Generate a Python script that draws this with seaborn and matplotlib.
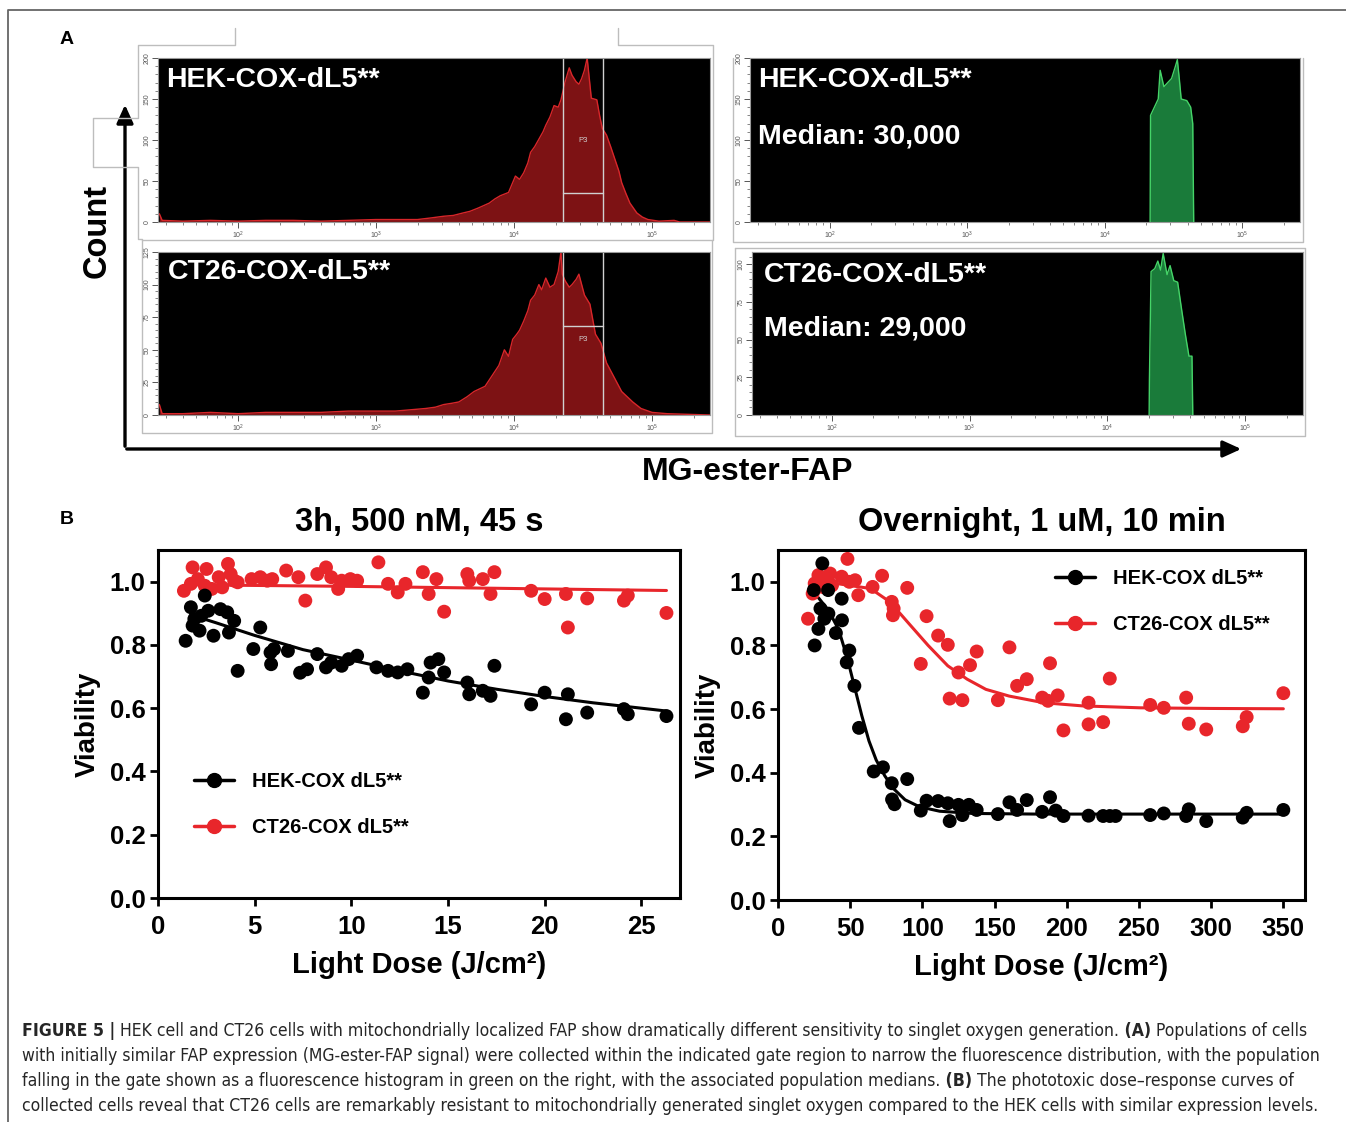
import numpy as np
import pandas as pd
import matplotlib
matplotlib.use("Agg")
import matplotlib.pyplot as plt
import seaborn as sns
from matplotlib import ticker, font_manager
from matplotlib.lines import Line2D
from matplotlib.patches import FancyArrowPatch

# ---------------- data ----------------
# panel A: flow histograms, x = log10(MG-ester-FAP), y = count
HEK_LOG = [1.43, 1.45, 1.60, 1.80, 2.00, 2.20, 2.40, 2.60, 2.80, 3.00,
           3.15, 3.30, 3.40, 3.49, 3.56, 3.63, 3.68, 3.74, 3.78, 3.82,
           3.86, 3.90, 3.96, 4.01, 4.04, 4.07, 4.10, 4.12, 4.15, 4.18,
           4.21, 4.23, 4.26, 4.29, 4.32, 4.34, 4.37, 4.40, 4.42, 4.45,
           4.47, 4.49, 4.51, 4.53, 4.56, 4.58, 4.60, 4.62, 4.64, 4.67,
           4.70, 4.73, 4.76, 4.78, 4.81, 4.84, 4.89, 4.93, 4.97, 5.05,
           5.16, 5.20, 5.42]
HEK_CNT = [10, 2, 1, 2, 1, 2, 2, 1, 2, 3,
           3, 3, 5, 7, 8, 11, 13, 17, 20, 23,
           28, 32, 36, 56, 52, 60, 72, 85, 92, 101,
           110, 118, 128, 142, 140, 149, 171, 188, 179, 171,
           168, 175, 185, 200, 151, 150, 149, 130, 114, 106,
           92, 77, 62, 48, 35, 23, 11, 6, 3, 1,
           2, 0, 0]

CT_LOG = [1.43, 1.45, 1.60, 1.80, 2.00, 2.20, 2.40, 2.60, 2.80, 3.00,
          3.14, 3.25, 3.36, 3.43, 3.49, 3.55, 3.60, 3.66, 3.71, 3.75,
          3.79, 3.84, 3.89, 3.93, 3.96, 3.99, 4.02, 4.04, 4.07, 4.10,
          4.12, 4.15, 4.18, 4.20, 4.23, 4.26, 4.29, 4.32, 4.34, 4.35,
          4.37, 4.40, 4.42, 4.45, 4.47, 4.49, 4.51, 4.55, 4.59, 4.63,
          4.67, 4.70, 4.73, 4.78, 4.82, 4.86, 4.92, 5.00, 5.11, 5.42]
CT_CNT = [8, 1, 1, 2, 1, 2, 2, 2, 3, 3,
          3, 4, 5, 6, 8, 9, 10, 14, 18, 20,
          22, 30, 38, 50, 45, 58, 62, 65, 72, 80,
          88, 92, 100, 96, 105, 98, 100, 110, 125, 108,
          103, 98, 100, 104, 108, 100, 92, 85, 62, 55,
          40, 34, 28, 18, 14, 10, 5, 2, 1, 0]

HEK_GATED_LOG = [4.330, 4.333, 4.347, 4.389, 4.403, 4.430, 4.458, 4.486,
                 4.514, 4.528, 4.542, 4.556, 4.597, 4.625, 4.640, 4.647]
HEK_GATED_CNT = [0, 130, 135, 150, 185, 165, 170, 175,
                 190, 198, 175, 150, 148, 140, 120, 0]
CT_GATED_LOG = [4.303, 4.305, 4.317, 4.344, 4.366, 4.386, 4.405, 4.433,
                4.455, 4.482, 4.510, 4.537, 4.565, 4.592, 4.614, 4.620]
CT_GATED_CNT = [0, 23, 95, 97, 102, 96, 107, 93,
                99, 89, 88, 71, 54, 39, 39, 0]

GATE = (4.356, 4.644)

# panel B left: 3h, 500 nM, 45 s
L_RED_X = [1.34, 1.79, 1.70, 2.06, 2.51, 2.42, 2.78, 3.14, 3.32, 3.62,
           3.76, 3.94, 4.12, 4.84, 5.29, 5.65, 5.91, 6.63, 7.26, 7.62,
           8.24, 8.69, 8.96, 9.32, 9.50, 9.95, 10.3, 11.4, 11.9, 12.4,
           12.8, 13.7, 14.0, 14.4, 14.8, 16.0, 16.1, 16.8, 17.2, 17.4,
           19.3, 20.0, 21.1, 21.2, 22.2, 24.1, 24.3, 26.3]
L_RED_Y = [0.971, 1.045, 0.993, 1.008, 1.040, 0.987, 0.977, 1.014, 0.982, 1.056,
           1.024, 1.003, 0.998, 1.008, 1.014, 1.003, 1.008, 1.035, 1.014, 0.940,
           1.024, 1.045, 1.014, 0.977, 1.003, 1.008, 1.003, 1.061, 0.993, 0.966,
           0.993, 1.030, 0.961, 1.008, 0.905, 1.024, 1.003, 1.008, 0.961, 1.030,
           0.971, 0.945, 0.961, 0.855, 0.947, 0.940, 0.956, 0.901]
L_BLK_X = [1.43, 1.70, 1.79, 1.88, 2.15, 2.24, 2.42, 2.60, 2.87, 3.23,
           3.58, 3.67, 3.94, 4.12, 4.93, 5.29, 5.82, 5.85, 6.00, 6.72,
           7.35, 7.71, 8.24, 8.69, 8.96, 9.50, 9.86, 10.3, 11.3, 11.9,
           12.4, 12.9, 13.7, 14.0, 14.1, 14.5, 14.8, 16.0, 16.1, 16.8,
           17.2, 17.4, 19.3, 20.0, 21.1, 21.2, 22.2, 24.1, 24.3, 26.3]
L_BLK_Y = [0.813, 0.919, 0.861, 0.882, 0.845, 0.892, 0.956, 0.908, 0.829, 0.913,
           0.903, 0.839, 0.876, 0.718, 0.787, 0.855, 0.776, 0.739, 0.787, 0.781,
           0.712, 0.723, 0.771, 0.729, 0.744, 0.734, 0.755, 0.766, 0.729, 0.718,
           0.713, 0.723, 0.649, 0.697, 0.744, 0.755, 0.713, 0.681, 0.644, 0.655,
           0.639, 0.734, 0.612, 0.649, 0.565, 0.644, 0.586, 0.597, 0.581, 0.575]
L_RED_FIT_X = [1.5, 5.0, 10.0, 15.0, 20.0, 26.3]
L_RED_FIT_Y = [0.990, 0.988, 0.985, 0.981, 0.977, 0.972]
L_BLK_FIT_X = [1.7, 3.0, 5.0, 7.5, 10.0, 12.5, 15.0, 17.5, 20.0, 22.5, 25.0, 26.3]
L_BLK_FIT_Y = [0.895, 0.870, 0.830, 0.785, 0.752, 0.718, 0.686, 0.660, 0.637, 0.617, 0.600, 0.591]

# panel B right: overnight, 1 uM, 10 min
R_RED_X = [20.8, 24.0, 25.4, 28.0, 30.7, 33.4, 36.1, 37.4, 44.1, 48.1,
           49.4, 53.4, 55.6, 65.5, 72.1, 78.8, 79.6, 80.1, 89.5, 98.9,
           102.9, 110.9, 117.6, 118.9, 125.0, 127.7, 133.0, 137.6, 152.3, 160.3,
           165.6, 172.3, 183.0, 187.0, 188.4, 193.7, 197.7, 215.1, 215.1, 225.2,
           229.8, 257.8, 267.2, 282.7, 284.5, 296.6, 321.9, 324.6, 350.0]
R_RED_Y = [0.884, 0.963, 0.995, 1.021, 0.984, 1.011, 1.026, 0.989, 1.016, 1.072,
           1.000, 1.005, 0.958, 0.984, 1.019, 0.937, 0.895, 0.916, 0.981, 0.742,
           0.892, 0.831, 0.802, 0.633, 0.715, 0.628, 0.738, 0.781, 0.628, 0.794,
           0.673, 0.694, 0.636, 0.626, 0.744, 0.643, 0.533, 0.620, 0.552, 0.559,
           0.696, 0.613, 0.604, 0.636, 0.554, 0.536, 0.546, 0.575, 0.650]
R_BLK_X = [25.4, 24.8, 28.0, 29.4, 30.7, 32.1, 34.7, 34.9, 40.1, 44.1,
           44.3, 49.4, 47.6, 52.9, 56.1, 66.3, 72.7, 78.8, 79.0, 80.7,
           89.5, 98.9, 102.9, 110.9, 117.6, 118.9, 125.0, 127.7, 132.2, 137.6,
           152.3, 160.3, 165.6, 172.3, 183.0, 188.4, 192.4, 197.7, 215.1, 225.2,
           229.8, 233.8, 257.8, 267.2, 282.7, 284.5, 296.6, 321.9, 324.6, 350.0]
R_BLK_Y = [0.800, 0.974, 0.852, 0.916, 1.058, 0.884, 0.974, 0.900, 0.839, 0.947,
           0.879, 0.784, 0.747, 0.673, 0.541, 0.404, 0.417, 0.367, 0.316, 0.301,
           0.380, 0.281, 0.312, 0.311, 0.304, 0.248, 0.299, 0.267, 0.299, 0.283,
           0.270, 0.307, 0.283, 0.314, 0.277, 0.323, 0.281, 0.264, 0.265, 0.264,
           0.264, 0.264, 0.267, 0.272, 0.264, 0.285, 0.248, 0.259, 0.274, 0.283]
R_RED_FIT_X = [24, 40, 64, 77.5, 90.8, 104, 117.6, 131, 144, 160, 184, 211, 251, 300, 350]
R_RED_FIT_Y = [1.000, 0.995, 0.979, 0.937, 0.868, 0.800, 0.736, 0.694, 0.662, 0.641,
               0.620, 0.610, 0.604, 0.602, 0.601]
R_BLK_FIT_X = [28, 35, 42, 48, 53, 58, 63, 68, 74, 80, 88, 98, 112, 135, 180, 250, 350]
R_BLK_FIT_Y = [0.950, 0.910, 0.850, 0.760, 0.670, 0.580, 0.500, 0.440, 0.390, 0.350,
               0.315, 0.293, 0.279, 0.272, 0.270, 0.270, 0.270]

LINES = ["HEK-COX dL5**", "CT26-COX dL5**"]
COLORS = {"HEK-COX dL5**": "black", "CT26-COX dL5**": "#e8262b"}

CAPTION = [
    [("FIGURE 5 |", True),
     (" HEK cell and CT26 cells with mitochondrially localized FAP show dramatically different sensitivity to singlet oxygen generation.", False),
     (" (A)", True), (" Populations of cells", False)],
    [("with initially similar FAP expression (MG-ester-FAP signal) were collected within the indicated gate region to narrow the fluorescence distribution, with the population", False)],
    [("falling in the gate shown as a fluorescence histogram in green on the right, with the associated population medians.", False),
     (" (B)", True), (" The phototoxic dose\u2013response curves of", False)],
    [("collected cells reveal that CT26 cells are remarkably resistant to mitochondrially generated singlet oxygen compared to the HEK cells with similar expression levels.", False)],
]

# ---------------- figure ----------------
W, H = 1346, 1122
sns.set_theme(style="ticks")
plt.rcParams["font.family"] = ["Liberation Sans", "DejaVu Sans"]
plt.rcParams["text.color"] = "black"
plt.rcParams["axes.labelcolor"] = "black"
plt.rcParams["xtick.color"] = "black"
plt.rcParams["ytick.color"] = "black"

fig = plt.figure(figsize=(W / 100, H / 100), dpi=100)
fig.patch.set_facecolor("white")


def rect(x0, y0, x1, y1):
    return [x0 / W, 1 - y1 / H, (x1 - x0) / W, (y1 - y0) / H]


def fp(x, y):
    return (x / W, 1 - y / H)


def fig_line(pts, color="#bdbdbd", lw=1.0):
    xs = [p[0] / W for p in pts]
    ys = [1 - p[1] / H for p in pts]
    fig.add_artist(Line2D(xs, ys, color=color, lw=lw, transform=fig.transFigure))


# outer border (top + left)
fig_line([(1346, 10), (8, 10), (8, 1122)], color="#666666", lw=1.3)

# frames of the pasted cytometer exports
fig_line([(235, 28), (235, 45), (138, 45), (138, 118), (93, 118), (93, 167),
          (138, 167), (138, 239), (142, 239), (142, 433), (712, 433), (712, 240)])
fig_line([(618, 28), (618, 45), (713, 45), (713, 240), (142, 240)])
fig_line([(733, 58), (733, 242), (1303, 242), (1303, 58)])
fig_line([(735, 248), (735, 436), (1305, 436), (1305, 248), (735, 248)])


def flow_panel(box, logs, counts, ymax, ymajor, yminor, face, edge, labels, gate=None):
    ax = fig.add_axes(rect(*box))
    ax.set_facecolor("black")
    x = 10 ** np.array(logs)
    ax.fill_between(x, counts, color=face, lw=0)
    ax.plot(x, counts, color=edge, lw=1.0)
    ax.set_xscale("log")
    ax.set_xlim(10 ** 1.42, 10 ** 5.42)
    ax.set_ylim(0, ymax)
    ax.xaxis.set_major_locator(ticker.LogLocator(base=10, numticks=10))
    ax.xaxis.set_minor_locator(ticker.LogLocator(base=10, subs=np.arange(2, 10), numticks=40))
    ax.xaxis.set_minor_formatter(ticker.NullFormatter())
    ax.yaxis.set_major_locator(ticker.MultipleLocator(ymajor))
    ax.yaxis.set_minor_locator(ticker.MultipleLocator(yminor))
    ax.tick_params(which="major", labelsize=5, colors="#555555", length=4, width=0.7,
                   direction="out", pad=1.5)
    ax.tick_params(which="minor", colors="#555555", length=2, width=0.5, direction="out")
    for lab in ax.get_yticklabels():
        lab.set_rotation(90)
        lab.set_va("center")
    for sp in ax.spines.values():
        sp.set_color("#9a9a9a")
        sp.set_linewidth(0.8)
    for txt, xa, ya in labels:
        ax.text(xa, ya, txt, transform=ax.transAxes, color="white", fontsize=20.5,
                fontweight="bold", ha="left", va="center")
    if gate is not None:
        lo, hi = GATE
        bar, plab = gate
        ax.axvline(10 ** lo, color="#d0d0d0", lw=1.0)
        ax.axvline(10 ** hi, color="#d0d0d0", lw=1.0)
        ax.plot([10 ** lo, 10 ** hi], [bar, bar], color="#d0d0d0", lw=1.0)
        ax.text(10 ** ((lo + hi) / 2), plab, "P3", color="#d0d0d0", fontsize=5.5,
                ha="center", va="center")
    return ax


RED_FACE, RED_EDGE = "#7d1214", "#d8262a"
GRN_FACE, GRN_EDGE = "#1a7b3a", "#45d468"

flow_panel((158, 58, 710, 222), HEK_LOG, HEK_CNT, 200, 50, 10, RED_FACE, RED_EDGE,
           [("HEK-COX-dL5**", 0.014, 0.866)], gate=(35, 100))
flow_panel((158, 252, 710, 415), CT_LOG, CT_CNT, 125, 25, 5, RED_FACE, RED_EDGE,
           [("CT26-COX-dL5**", 0.018, 0.877)], gate=(68, 58))
flow_panel((750, 58, 1300, 222), HEK_GATED_LOG, HEK_GATED_CNT, 200, 50, 10, GRN_FACE, GRN_EDGE,
           [("HEK-COX-dL5**", 0.014, 0.866), ("Median: 30,000", 0.014, 0.524)])
flow_panel((752, 252, 1303, 415), CT_GATED_LOG, CT_GATED_CNT, 108, 25, 5, GRN_FACE, GRN_EDGE,
           [("CT26-COX-dL5**", 0.022, 0.859), ("Median: 29,000", 0.022, 0.528)])

# Count / MG-ester-FAP axes arrows
arrow_style = "-|>,head_length=0.55,head_width=0.25"
fig.add_artist(FancyArrowPatch(fp(125, 449), fp(125, 102), transform=fig.transFigure,
                               arrowstyle=arrow_style, mutation_scale=20, lw=2.4, color="black"))
fig.add_artist(FancyArrowPatch(fp(124, 449), fp(1244, 449), transform=fig.transFigure,
                               arrowstyle=arrow_style, mutation_scale=20, lw=2.4, color="black"))
fig.text(*fp(97, 231), "Count", rotation=90, fontsize=23.5, fontweight="bold", ha="center", va="center")
fig.text(*fp(748, 472), "MG-ester-FAP", fontsize=23, fontweight="bold", ha="center", va="center")

fig.text(*fp(67, 40), "A", fontsize=14, fontweight="bold", ha="center", va="center")
fig.text(*fp(67, 520), "B", fontsize=14, fontweight="bold", ha="center", va="center")


def dose_panel(box, red, blk, red_fit, blk_fit, xmax, xticks, title, leg_anchor):
    ax = fig.add_axes(rect(*box))
    pts = pd.DataFrame({
        "dose": list(red[0]) + list(blk[0]),
        "viability": list(red[1]) + list(blk[1]),
        "line": [LINES[1]] * len(red[0]) + [LINES[0]] * len(blk[0]),
    })
    sns.lineplot(x=red_fit[0], y=red_fit[1], color=COLORS[LINES[1]], lw=2.2, ax=ax)
    sns.lineplot(x=blk_fit[0], y=blk_fit[1], color=COLORS[LINES[0]], lw=2.2, ax=ax)
    sns.scatterplot(data=pts, x="dose", y="viability", hue="line", palette=COLORS,
                    hue_order=[LINES[1], LINES[0]], s=100, edgecolor="none",
                    legend=False, ax=ax, zorder=3)
    ax.set_xlim(0, xmax)
    ax.set_ylim(0, 1.1)
    ax.set_xticks(xticks)
    ax.set_yticks([0.0, 0.2, 0.4, 0.6, 0.8, 1.0])
    ax.yaxis.set_major_formatter(ticker.FormatStrFormatter("%.1f"))
    ax.tick_params(labelsize=18.5, length=6, width=2, direction="out", color="black",
                   labelcolor="black")
    ax.tick_params(axis="x", pad=6)
    ax.tick_params(axis="y", pad=3)
    for lab in ax.get_xticklabels() + ax.get_yticklabels():
        lab.set_fontweight("bold")
    for sp in ax.spines.values():
        sp.set_visible(True)
        sp.set_color("black")
        sp.set_linewidth(2.2)
    ax.set_xlabel("Light Dose (J/cm\u00b2)", fontsize=21, fontweight="bold", labelpad=9)
    ax.set_ylabel("Viability", fontsize=20, fontweight="bold", labelpad=6)
    ax.set_title(title, fontsize=23.5, fontweight="bold", pad=14)
    handles = [Line2D([0], [0], color=COLORS[n], lw=2.5, marker="o", markersize=10) for n in LINES]
    ax.legend(handles, LINES, loc="upper left", bbox_to_anchor=leg_anchor, frameon=False,
              prop={"weight": "bold", "size": 14.5}, handlelength=2.0, handletextpad=0.9,
              labelspacing=1.35, borderaxespad=0)
    ax.grid(False)
    return ax


dose_panel((158, 550, 680, 898), (L_RED_X, L_RED_Y), (L_BLK_X, L_BLK_Y),
           (L_RED_FIT_X, L_RED_FIT_Y), (L_BLK_FIT_X, L_BLK_FIT_Y),
           27, [0, 5, 10, 15, 20, 25], "3h, 500 nM, 45 s", (0.053, 0.385))
dose_panel((778, 550, 1305, 900), (R_RED_X, R_RED_Y), (R_BLK_X, R_BLK_Y),
           (R_RED_FIT_X, R_RED_FIT_Y), (R_BLK_FIT_X, R_BLK_FIT_Y),
           365, [0, 50, 100, 150, 200, 250, 300, 350], "Overnight, 1 uM, 10 min", (0.51, 0.97))

# ---------------- caption ----------------
def condensed_font(weight):
    for name in ["Liberation Sans Narrow", "DejaVu Sans"]:
        try:
            prop = font_manager.FontProperties(family=name, stretch="condensed", weight=weight)
            path = font_manager.findfont(prop, fallback_to_default=False)
            if "Narrow" in path or "Condensed" in path:
                return font_manager.FontProperties(fname=path)
        except ValueError:
            pass
    return font_manager.FontProperties(family="Liberation Sans", weight=weight)


cap_regular = condensed_font("normal")
cap_bold = condensed_font("bold")
fig.canvas.draw()
renderer = fig.canvas.get_renderer()

probe = fig.text(0, 0, CAPTION[1][0][0], fontproperties=cap_regular, fontsize=12)
probe_w = probe.get_window_extent(renderer=renderer).width
probe.remove()
cap_size = 12 * 1301 / probe_w

for i, segs in enumerate(CAPTION):
    x = 22.0
    y = 1036 + 25 * i
    for txt, bold in segs:
        t = fig.text(x / W, 1 - y / H, txt, fontproperties=cap_bold if bold else cap_regular,
                     fontsize=cap_size, color="#262626", va="baseline")
        x += t.get_window_extent(renderer=renderer).width

fig.savefig("out.png", dpi=100)
